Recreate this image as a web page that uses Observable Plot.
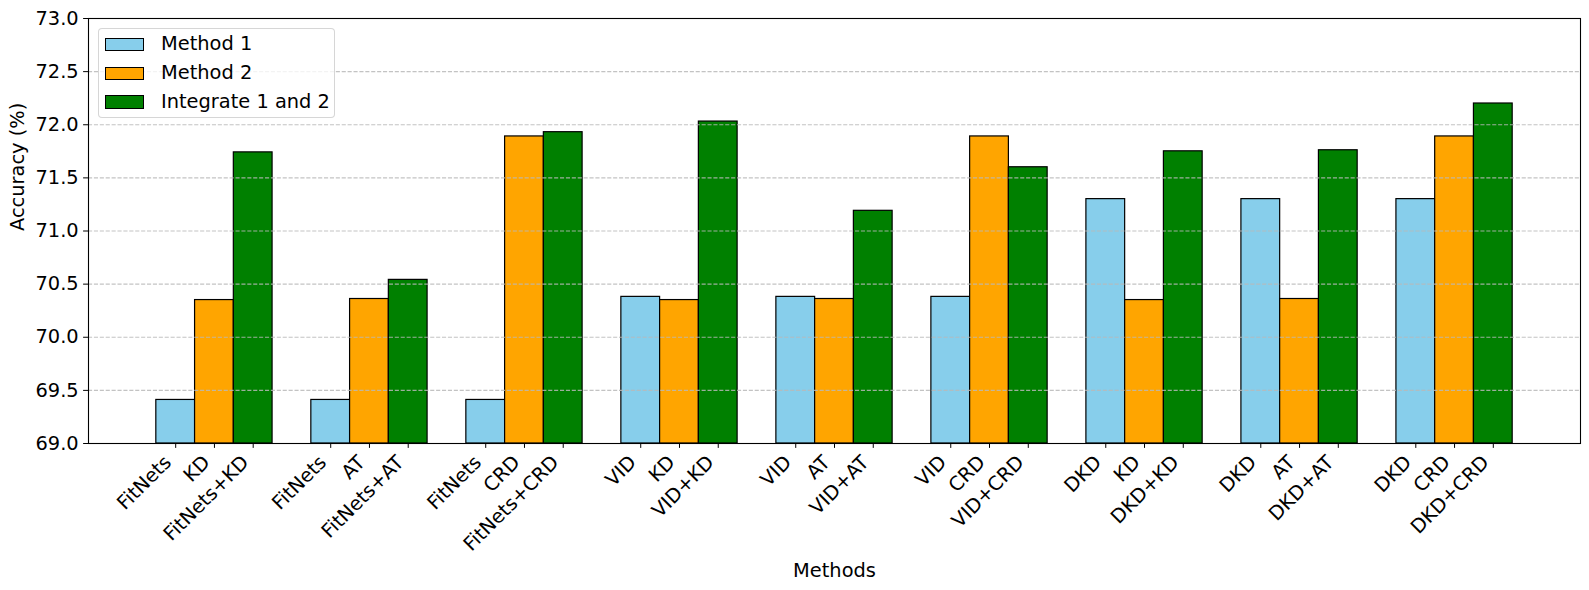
<!DOCTYPE html>
<html>
<head>
<meta charset="utf-8">
<script src="https://cdn.jsdelivr.net/npm/d3@7"></script>
<script src="https://cdn.jsdelivr.net/npm/@observablehq/plot@0.6"></script>
<style>
  html, body { margin: 0; padding: 0; background: #fff; }
  #wrap { position: relative; width: 1589px; height: 590px; font-family: "DejaVu Sans", sans-serif; }
  #legend {
    position: absolute; left: 98px; top: 27.5px; width: 237px; height: 90px;
    border: 1px solid rgba(204,204,204,0.8); border-radius: 4px;
    background: rgba(255,255,255,0.8); box-sizing: border-box;
    font-family: "DejaVu Sans", sans-serif; font-size: 19.4px; color: #000;
  }
  .row { position: absolute; left: 0; height: 20px; width: 100%; }
  .sw { position: absolute; left: 6px; width: 39px; height: 13.6px; border: 1.2px solid #000; box-sizing: border-box; }
  .lb { position: absolute; left: 62px; white-space: nowrap; line-height: 1; }
</style>
</head>
<body>
<div id="wrap"><div id="chart"></div><div id="legend"></div></div>
<script>
// ---- data ----
const method1Labels = ["FitNets", "FitNets", "FitNets", "VID", "VID", "VID", "DKD", "DKD", "DKD"];
const method2Labels = ["KD", "AT", "CRD", "KD", "AT", "CRD", "KD", "AT", "CRD"];
const combinedLabels = ["FitNets+KD", "FitNets+AT", "FitNets+CRD", "VID+KD", "VID+AT", "VID+CRD", "DKD+KD", "DKD+AT", "DKD+CRD"];
const method1Values = [69.41, 69.41, 69.41, 70.38, 70.38, 70.38, 71.30, 71.30, 71.30];
const method2Values = [70.35, 70.36, 71.89, 70.35, 70.36, 71.89, 70.35, 70.36, 71.89];
const combinedValues = [71.74, 70.54, 71.93, 72.03, 71.19, 71.60, 71.75, 71.76, 72.20];
const seriesNames = ["Method 1", "Method 2", "Integrate 1 and 2"];
const seriesColors = ["#87CEEB", "#FFA500", "#008000"];
const yTicks = [69.0, 69.5, 70.0, 70.5, 71.0, 71.5, 72.0, 72.5, 73.0];

// ---- table built from arrays ----
const barWidth = 0.25;
const offsets = [-barWidth, 0, barWidth];
const valueSets = [method1Values, method2Values, combinedValues];
const labelSets = [method1Labels, method2Labels, combinedLabels];
const bars = [];
method2Labels.forEach((_, i) => {
  for (let s = 0; s < 3; s++) {
    const c = i + offsets[s];
    bars.push({series: seriesNames[s], pos: c, x1: c - barWidth / 2, x2: c + barWidth / 2,
               value: valueSets[s][i], label: labelSets[s][i]});
  }
});

const fs = 19.4;
const chart = Plot.plot({
  width: 1589,
  height: 590,
  marginLeft: 88,
  marginRight: 9,
  marginTop: 18,
  marginBottom: 147,
  style: {fontFamily: "DejaVu Sans, sans-serif", fontSize: fs + "px", background: "#fff", overflow: "visible"},
  x: {domain: [-0.8125, 8.8125], axis: null},
  y: {domain: [69, 73], axis: null},
  color: {domain: seriesNames, range: seriesColors},
  marks: [
    Plot.rectY(bars, {x1: "x1", x2: "x2", y1: 69, y2: "value", fill: "series", stroke: "#000", strokeWidth: 1.2}),
    Plot.ruleY(yTicks.filter(v => v > 69 && v < 73), {stroke: "#b8b8b8", strokeOpacity: 0.85, strokeWidth: 1.1, strokeDasharray: "4.1,1.8"}),
    Plot.frame({stroke: "#000", strokeWidth: 1.1}),
    Plot.axisY({ticks: yTicks, tickFormat: d3.format(".1f"), tickSize: 4.9, tickPadding: 4.9, fontSize: fs, stroke: "#000", fill: "#000", label: null}),
    Plot.axisX({ticks: bars.map(d => d.pos), tickSize: 4.9, tickFormat: () => "", stroke: "#000", label: null}),
    Plot.text(bars, {x: "pos", text: "label", frameAnchor: "bottom", dy: 20, dx: -3.3, rotate: -45, textAnchor: "end", lineAnchor: "bottom", fontSize: fs, fill: "#000"}),
    Plot.text(["Methods"], {frameAnchor: "bottom", dy: 133, text: d => d, fontSize: fs, fill: "#000", lineAnchor: "bottom"}),
    Plot.text(["Accuracy (%)"], {frameAnchor: "left", dx: -64.7, text: d => d, rotate: -90, fontSize: fs, fill: "#000", lineAnchor: "bottom"})
  ]
});
document.getElementById("chart").appendChild(chart);

// ---- legend ----
const legend = document.getElementById("legend");
const rowCenters = [16, 45, 73.3];
seriesNames.forEach((name, k) => {
  const row = document.createElement("div");
  row.className = "row";
  row.style.top = (rowCenters[k] - 10) + "px";
  const sw = document.createElement("div");
  sw.className = "sw";
  sw.style.background = seriesColors[k];
  sw.style.top = (10 - 6.8) + "px";
  const lb = document.createElement("div");
  lb.className = "lb";
  lb.style.top = (10 - 10.2) + "px";
  lb.textContent = name;
  row.appendChild(sw); row.appendChild(lb);
  legend.appendChild(row);
});
</script>
</body>
</html>
